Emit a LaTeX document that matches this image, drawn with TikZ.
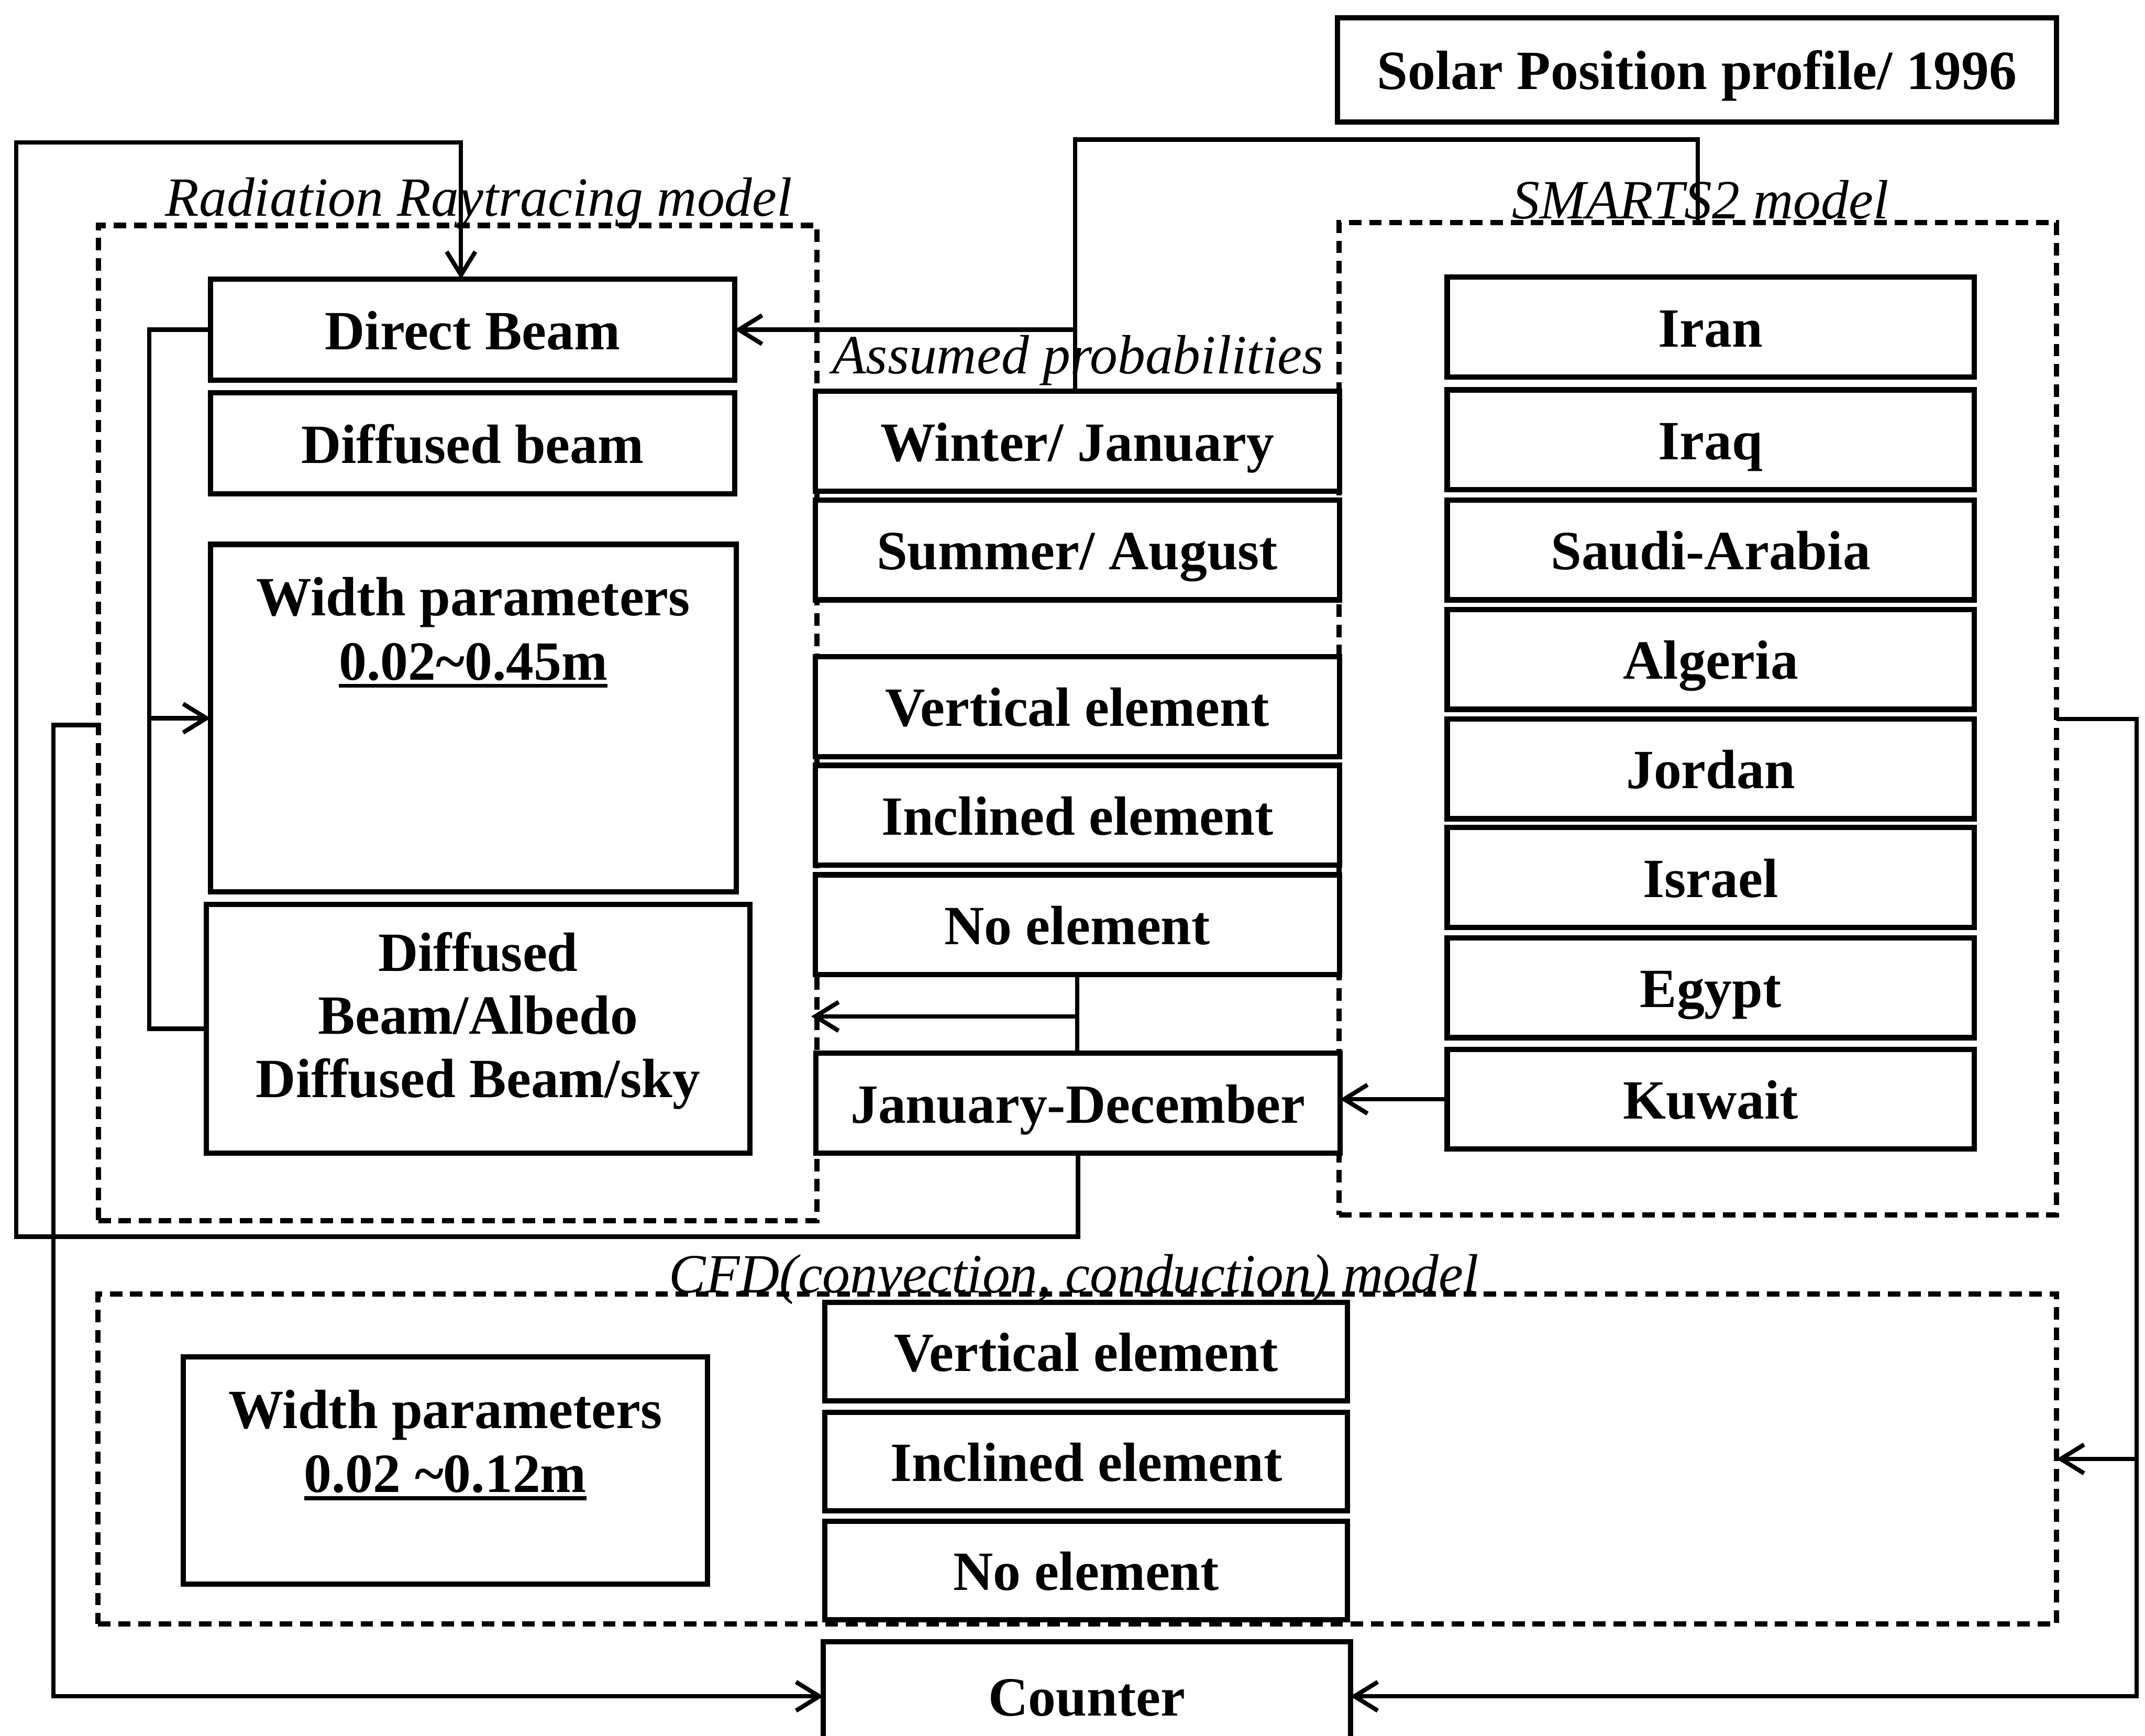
\documentclass[tikz,border=0pt]{standalone}
\usepackage{fontspec}
\setmainfont{Liberation Serif}
\usetikzlibrary{arrows.meta}
\newsavebox\ulbox
\newcommand\thickul[1]{\sbox\ulbox{#1}\rlap{\rule[-1.6pt]{\wd\ulbox}{0.8pt}}\usebox\ulbox}
\begin{document}
\begin{tikzpicture}[x=0.01cm,y=-0.01cm,
  every node/.style={font=\fontsize{11.5}{13}\selectfont\bfseries},
  box/.style={draw, fill=white, line width=1.1pt, inner sep=0pt, outer sep=0pt,
              text height=0.82em, text depth=0pt},
  frame/.style={draw, line width=1.1pt, dash pattern=on 2.6pt off 1.6pt,
                inner sep=0pt, outer sep=0pt},
  lbl/.style={font=\fontsize{11.5}{13}\selectfont\itshape, inner sep=0pt, anchor=base},
  txt/.style={inner sep=0pt, anchor=base},
  conn/.style={line width=0.9pt},
  arr/.style={conn, -{Straight Barb[length=1.7mm,width=2.1mm]}},
  leftbox/.style={box, minimum width=3.83cm, minimum height=0.74cm},
  midbox/.style={box, minimum width=3.83cm, minimum height=0.73cm},
  landbox/.style={box, minimum width=3.85cm, minimum height=0.73cm},
  cfdbox/.style={box, minimum width=3.82cm, minimum height=0.72cm}]

\useasboundingbox (0,0) rectangle (1568,1269);

% solar position input
\node[box, minimum width=5.25cm, minimum height=0.76cm] (solar) at (1240.5,51) {Solar Position profile/ 1996};

% model frames
\node[frame, minimum width=5.25cm, minimum height=7.27cm] (radf) at (334.5,528.5) {};
\node[frame, minimum width=5.24cm, minimum height=7.25cm] (smf) at (1241,525.5) {};
\node[frame, minimum width=14.31cm, minimum height=2.41cm] (cfdf) at (787.5,1066.5) {};

\node[lbl] (radl) at (350,158) {Radiation Raytracing model};
\node[lbl] (sml) at (1243,160) {SMARTS2 model};
\node[lbl] (apl) at (788,273) {Assumed probabilities};
\node[lbl] (cfdl) at (785,945) {CFD(convection, conduction) model};

% radiation ray-tracing model
\node[leftbox] (db) at (345.5,241) {Direct Beam};
\node[leftbox] (dfb) at (345.5,324) {Diffused beam};
\node[box, minimum width=3.84cm, minimum height=2.54cm] (wp1) at (346,525) {};
\node[txt] (wp1a) at (346,450) {Width parameters};
\node[txt] (wp1b) at (346,497) {\thickul{0.02\textasciitilde0.45m}};
\node[box, minimum width=3.97cm, minimum height=1.82cm] (alb) at (349.5,752) {};
\node[txt] (alb1) at (349.5,710) {Diffused};
\node[txt] (alb2) at (349.5,756) {Beam/Albedo};
\node[txt] (alb3) at (349.5,802) {Diffused Beam/sky};

% assumed probabilities
\node[midbox] (win) at (787.5,322.5) {Winter/ January};
\node[midbox] (sum) at (787.5,402) {Summer/ August};
\node[midbox] (ver) at (787.5,516.5) {Vertical element};
\node[midbox] (inc) at (787.5,596) {Inclined element};
\node[midbox] (noe) at (787.5,676) {No element};
\node[midbox] (jd) at (788,806.5) {January-December};

% SMARTS2 locations
\node[landbox] (iran) at (1250.5,239) {Iran};
\node[landbox] (iraq) at (1250.5,321.5) {Iraq};
\node[landbox] (saudi) at (1250.5,402) {Saudi-Arabia};
\node[landbox] (alg) at (1250.5,482) {Algeria};
\node[landbox] (jor) at (1250.5,562) {Jordan};
\node[landbox] (isr) at (1250.5,641.5) {Israel};
\node[landbox] (egy) at (1250.5,722) {Egypt};
\node[landbox] (kuw) at (1250.5,803.5) {Kuwait};

% CFD model
\node[box, minimum width=3.83cm, minimum height=1.66cm] (wp2) at (325.5,1075) {};
\node[txt] (wp2a) at (325.5,1044) {Width parameters};
\node[txt] (wp2b) at (325.5,1091) {\thickul{0.02 \textasciitilde0.12m}};
\node[cfdbox] (cver) at (794,988) {Vertical element};
\node[cfdbox] (cinc) at (794,1068.5) {Inclined element};
\node[cfdbox] (cnoe) at (794,1148) {No element};

\node[box, minimum width=3.85cm, minimum height=0.80cm] (counter) at (794.5,1240) {Counter};

% bend points
\coordinate (fbA) at (12,904);
\coordinate (fbB) at (12,104);
\coordinate (fbC) at (337,104);
\coordinate (spA) at (786,102);
\coordinate (lbx) at (109,0);
\coordinate (clA) at (39,530);
\coordinate (nbT) at (593,743);
\coordinate (rx) at (1562,0);

% loop back from the monthly run to the direct beam
\draw[arr] (jd.south) |- (fbA) -- (fbB) -- (fbC) -- (fbC |- db.north);
% SMARTS2 output to the probabilities and the direct beam
\draw[conn] (smf.north) |- (spA) -- (spA |- win.north);
\draw[arr] (spA |- db.east) -- (db.east);
% radiation components bracket
\draw[conn] (db.west) -- (db.west -| lbx) -- (alb.west -| lbx) -- (alb.west);
\draw[arr] (wp1.west -| lbx) -- (wp1.west);
% radiation model to counter
\draw[arr] (radf.west |- clA) -- (clA) |- (counter.west);
% element cases to monthly run and albedo
\draw[conn] (noe.south) -- (noe.south |- jd.north);
\draw[arr] (noe.south |- nbT) -- (nbT);
\draw[arr] (kuw.west) -- (kuw.west -| jd.east);
% SMARTS2 to CFD and counter
\draw[arr] (smf.east) -- (smf.east -| rx) |- (counter.east);
\draw[arr] (cfdf.east -| rx) -- (cfdf.east);

\end{tikzpicture}
\end{document}
